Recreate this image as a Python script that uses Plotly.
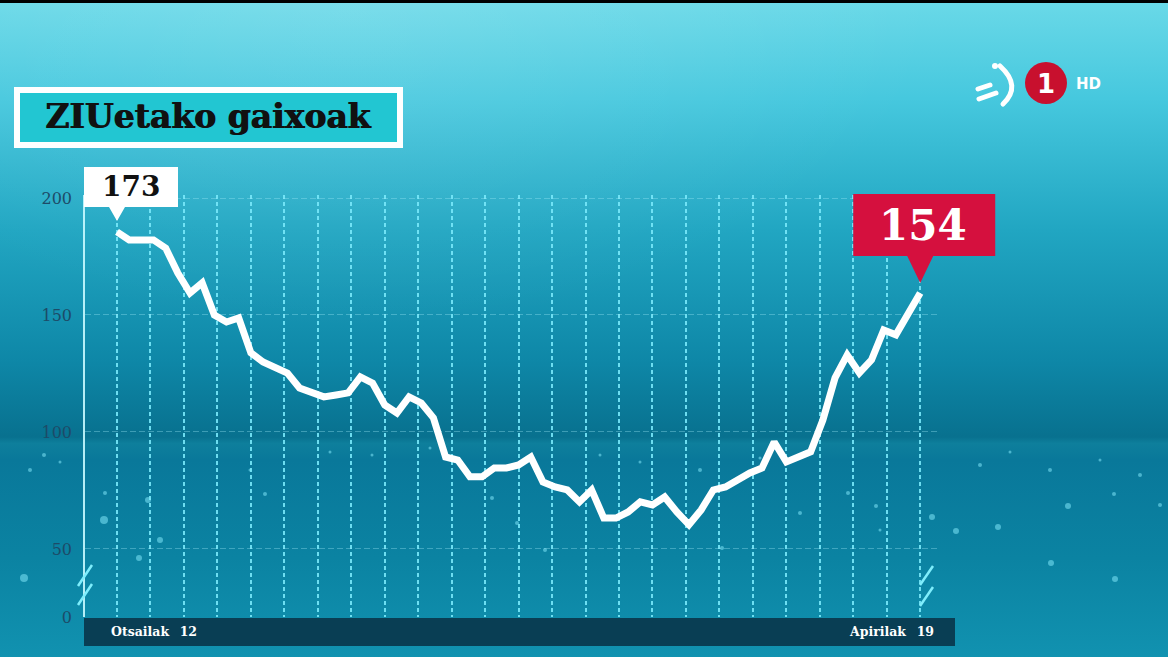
import base64
import pandas as pd
import plotly.graph_objects as go

# ---------------- data ----------------
start_date = "2021-02-12"
dates = pd.date_range(start_date, periods=67, freq="D")
patients = [185.5, 182.1, 182.1, 182.1, 178.6, 167.9, 159.4, 163.7, 150.0, 147.0,
            148.7, 133.8, 129.9, 127.6, 125.2, 118.8, 116.9, 115.0, 115.8, 116.7,
            123.5, 120.9, 111.5, 108.1, 115.0, 112.4, 106.0, 89.3, 88.0, 80.8,
            80.8, 84.6, 84.6, 85.9, 89.3, 78.6, 76.5, 75.2, 70.1, 75.2,
            63.2, 63.2, 65.8, 70.1, 68.8, 72.2, 65.8, 60.3, 66.7, 75.2,
            76.5, 79.5, 82.5, 84.6, 95.7, 87.2, 89.3, 91.5, 105.1, 123.1,
            132.9, 125.2, 130.8, 143.6, 141.5, 150.4, 159.4]
first_label = "173"
last_label = "154"
ytick_vals = [20.9, 50, 100, 150, 200]
ytick_text = ["0", "50", "100", "150", "200"]
title_text = "ZIUetako gaixoak"
start_label = "Otsailak\u2002 12"
end_label = "Apirilak\u2002 19"

# ---------------- layout geometry ----------------
W, H = 1168, 657
L, R, T, B = 85, 940, 195, 617
PW, PH = R - L, B - T


def px(x):
    return (x - L) / PW


def py(y):
    return (B - y) / PH


SERIF = "DejaVu Serif"

# decorative background particles (not data)
bg_dots = [(104, 520, 4), (24, 578, 4), (160, 540, 3), (148, 500, 3), (139, 558, 3),
           (105, 493, 2), (492, 498, 2), (517, 523, 2), (545, 550, 2), (722, 548, 2),
           (800, 513, 2), (932, 517, 3), (956, 531, 3), (998, 527, 3), (1051, 563, 3),
           (1115, 579, 3), (1068, 506, 3), (1114, 494, 2), (1160, 505, 2), (876, 506, 2),
           (848, 493, 2), (265, 494, 2), (44, 455, 2), (30, 470, 2), (60, 462, 1.5),
           (330, 452, 1.5), (372, 455, 1.5), (430, 448, 1.5), (600, 455, 1.5),
           (640, 462, 1.5), (700, 470, 2), (760, 458, 1.5), (980, 465, 2), (1010, 452, 1.5),
           (1050, 470, 2), (1100, 460, 1.5), (1140, 475, 2), (250, 470, 1.5), (880, 530, 1.5)]
dots_svg = "".join(
    f"<circle cx='{x}' cy='{y}' r='{r}' fill='#7fe6f8' fill-opacity='0.55'/>" for x, y, r in bg_dots
)

svg = f"""<svg xmlns='http://www.w3.org/2000/svg' width='{W}' height='{H}' viewBox='0 0 {W} {H}' preserveAspectRatio='none'>
<defs>
<linearGradient id='g' x1='0' y1='0' x2='0' y2='1'>
<stop offset='0' stop-color='#6ad9e8'/>
<stop offset='0.15' stop-color='#46c8de'/>
<stop offset='0.35' stop-color='#21a6c2'/>
<stop offset='0.55' stop-color='#0e87a7'/>
<stop offset='0.665' stop-color='#08718f'/>
<stop offset='0.675' stop-color='#0e7f9c'/>
<stop offset='0.70' stop-color='#09789a'/>
<stop offset='0.85' stop-color='#0b83a2'/>
<stop offset='1' stop-color='#1192b0'/>
</linearGradient>
<radialGradient id='r' cx='0.3' cy='0.0' r='0.5'>
<stop offset='0' stop-color='#ffffff' stop-opacity='0.12'/>
<stop offset='1' stop-color='#ffffff' stop-opacity='0'/>
</radialGradient>
</defs>
<rect width='{W}' height='{H}' fill='url(#g)'/>
<rect width='{W}' height='{H}' fill='url(#r)'/>
<rect width='{W}' height='3' fill='#000'/>
{dots_svg}
<g stroke='#ffffff' stroke-width='5' stroke-linecap='round' fill='none'>
<path d='M 1000 66 Q 1022 86 1003 104'/>
<line x1='978' y1='89' x2='990' y2='85'/>
<line x1='979' y1='99' x2='996' y2='93'/>
</g>
<circle cx='995' cy='66' r='3' fill='#ffffff'/>
</svg>"""
svg_uri = "data:image/svg+xml;base64," + base64.b64encode(svg.encode()).decode()

fig = go.Figure()
fig.add_trace(go.Scatter(
    x=dates, y=patients, mode="lines",
    line=dict(color="white", width=7, shape="linear"),
    hoverinfo="skip", showlegend=False,
))

day = pd.Timedelta(days=1)
x0 = dates[0] - (117 - L) / 12.17 * day
x1 = dates[0] + (R - 117) / 12.17 * day
y0r = 20.9
y1r = 50 + (549 - T) / 2.34


def paper_x(d):
    return (d - x0) / (x1 - x0)


def paper_y(v):
    return (v - y0r) / (y1r - y0r)


fig.update_layout(
    width=W, height=H,
    margin=dict(l=L, r=W - R, t=T, b=H - B, pad=0),
    paper_bgcolor="#1590ad",
    plot_bgcolor="rgba(0,0,0,0)",
    showlegend=False,
    images=[dict(source=svg_uri, xref="paper", yref="paper",
                 x=px(0), y=py(0), sizex=W / PW, sizey=H / PH,
                 xanchor="left", yanchor="top", sizing="stretch", layer="below")],
    xaxis=dict(
        type="date", range=[x0, x1], showticklabels=False, ticks="",
        showgrid=True, gridcolor="rgba(120,232,250,0.9)", gridwidth=1.5,
        griddash="4px,3px", tick0=dates[0], dtick=2.75 * 86400000,
        zeroline=False, showline=False, fixedrange=True,
    ),
    yaxis=dict(
        range=[y0r, y1r],
        tickvals=ytick_vals, ticktext=ytick_text,
        tickfont=dict(family=SERIF, size=16, color="#1d4b68"),
        ticks="outside", ticklen=8, tickcolor="rgba(0,0,0,0)",
        showgrid=True, gridcolor="rgba(160,235,250,0.35)", gridwidth=1,
        griddash="6px,3px",
        showline=True, linecolor="rgba(200,250,255,0.9)", linewidth=1.5,
        zeroline=False, fixedrange=True,
    ),
)

shapes = []
shapes.append(dict(type="rect", xref="paper", yref="paper",
                   x0=px(84), x1=px(955), y0=py(618), y1=py(646),
                   fillcolor="rgba(8,48,68,0.85)", line=dict(width=0), layer="above"))
for (ax0, ay0, ax1, ay1) in [(92, 565, 78, 586), (92, 584, 78, 605),
                             (933, 566, 920, 585), (933, 587, 920, 606)]:
    shapes.append(dict(type="line", xref="paper", yref="paper",
                       x0=px(ax0), y0=py(ay0), x1=px(ax1), y1=py(ay1),
                       line=dict(color="#7feefc", width=2.5), layer="above"))
shapes.append(dict(type="rect", xref="paper", yref="paper",
                   x0=px(14), x1=px(403), y0=py(148), y1=py(87),
                   fillcolor="white", line=dict(width=0), layer="above"))
shapes.append(dict(type="rect", xref="paper", yref="paper",
                   x0=px(20), x1=px(397), y0=py(142), y1=py(93),
                   fillcolor="#22c6d2", line=dict(width=0), layer="above"))
shapes.append(dict(type="path", xref="paper", yref="paper", xsizemode="pixel", ysizemode="pixel",
                   xanchor=paper_x(dates[0]), yanchor=paper_y(patients[0]),
                   path="M -33,25 L -8,25 L 0,11 L 8,25 L 61,25 L 61,65 L -33,65 Z",
                   fillcolor="white", line=dict(width=0), layer="above"))
shapes.append(dict(type="path", xref="paper", yref="paper", xsizemode="pixel", ysizemode="pixel",
                   xanchor=paper_x(dates[-1]), yanchor=paper_y(patients[-1]),
                   path="M -67,37 L -13,37 L 0,10 L 13,37 L 75,37 L 75,99 L -67,99 Z",
                   fillcolor="#d5103e", line=dict(width=0), layer="above"))
shapes.append(dict(type="circle", xref="paper", yref="paper",
                   x0=px(1025), x1=px(1067), y0=py(104), y1=py(62),
                   fillcolor="#c8102e", line=dict(width=0), layer="above"))
fig.update_layout(shapes=shapes)

annotations = []
for dx in (0, 1.0):
    annotations.append(dict(text=f"<b>{title_text}</b>", xref="paper", yref="paper",
                            x=px(208), y=py(117), xshift=dx, showarrow=False,
                            font=dict(family=SERIF, size=33, color="#111111"),
                            xanchor="center", yanchor="middle"))
annotations += [
    dict(text=f"<b>{first_label}</b>", xref="paper", yref="paper",
         x=paper_x(dates[0]), y=paper_y(patients[0]),
         xshift=14, yshift=45, showarrow=False,
         font=dict(family=SERIF, size=28, color="#111111"), xanchor="center", yanchor="middle"),
    dict(text=f"<b>{last_label}</b>", xref="paper", yref="paper",
         x=paper_x(dates[-1]), y=paper_y(patients[-1]),
         xshift=3, yshift=67, showarrow=False,
         font=dict(family=SERIF, size=42, color="white"), xanchor="center", yanchor="middle"),
    dict(text=f"<b>{start_label}</b>", xref="paper", yref="paper", x=px(109), y=py(631),
         showarrow=False, font=dict(family=SERIF, size=12.5, color="white"),
         xanchor="left", yanchor="middle"),
    dict(text=f"<b>{end_label}</b>", xref="paper", yref="paper", x=px(936), y=py(631),
         showarrow=False, font=dict(family=SERIF, size=12.5, color="white"),
         xanchor="right", yanchor="middle"),
    dict(text="<b>1</b>", xref="paper", yref="paper", x=px(1046), y=py(84),
         showarrow=False, font=dict(family="DejaVu Sans", size=26, color="white"),
         xanchor="center", yanchor="middle"),
    dict(text="<b>HD</b>", xref="paper", yref="paper", x=px(1074), y=py(84),
         showarrow=False, font=dict(family="DejaVu Sans", size=15, color="white"),
         xanchor="left", yanchor="middle"),
]
fig.update_layout(annotations=annotations)

fig.write_html(
    "out.html",
    config={"displayModeBar": False},
    post_script="document.body.style.margin='0';document.body.style.overflow='hidden';",
)
